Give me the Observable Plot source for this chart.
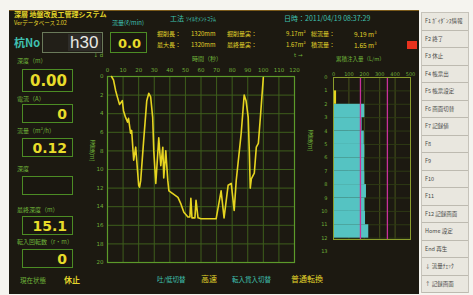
<!DOCTYPE html>
<html><head><meta charset="utf-8">
<script src="https://cdn.jsdelivr.net/npm/d3@7"></script>
<script src="https://cdn.jsdelivr.net/npm/@observablehq/plot@0.6"></script>
<style>
body{margin:0;background:#f5f4ef;font-family:"Noto Sans CJK JP",sans-serif;}
#wrap{position:relative;width:473px;height:295px;overflow:hidden;background:#f5f4ef;}
#screen{position:absolute;left:9px;top:10px;width:410px;height:283px;background:#1c1911;border-top:1px solid #7a5a1a;}
.t{position:absolute;white-space:nowrap;line-height:1;}
.y{color:#e2d42a;}
.c{color:#3fc0b0;}
.g{color:#6fb43a;}
.box{position:absolute;border:1.5px solid #4c8c24;background:#1a1710;box-sizing:border-box;}
.val{position:absolute;right:5px;top:50%;transform:translateY(-50%);color:#e8dc2a;font-weight:bold;font-family:"DejaVu Sans",sans-serif;line-height:1;}
#panel{position:absolute;left:421px;top:12px;width:48px;height:281px;background:#e9e7df;border:1px solid #c6c3ba;box-sizing:border-box;}
.btn{height:17.5px;border-bottom:1px solid #bdbab0;box-sizing:border-box;font-size:5.5px;color:#4a4a48;padding-left:3px;line-height:17px;white-space:nowrap;}
#main,#side{position:absolute;}
</style></head>
<body><div id="wrap">
<div id="screen"></div>
<div id="main" style="left:90px;top:50px"></div>
<div id="side" style="left:305px;top:55px"></div>
<div id="panel"></div>
</div>
<script>
// ---- main trace: time (s) vs depth (m)
const time = [2.6, 3.9, 5.2, 6.5, 7.7, 9.5, 10.3, 11.6, 12.9, 13.5, 14.8, 15.5, 16.8, 18.1, 19.4, 20.0, 20.6, 21.3, 23.2, 25.2, 26.5, 27.7, 29.0, 29.7, 31.0, 32.9, 34.2, 35.5, 36.1, 37.4, 38.7, 39.4, 41.9, 45.2, 47.1, 49.0, 51.6, 52.9, 53.5, 54.2, 56.1, 56.8, 58.1, 60.0, 69.7, 72.9, 74.8, 77.4, 79.4, 81.3, 82.6, 85.8, 87.7, 88.9, 90.3, 91.0, 91.6, 92.3, 94.2, 95.5, 96.8, 98.1, 100.0];
const depth = [0, 0.4, 1.5, 2.3, 3.0, 2.6, 3.7, 4.4, 4.9, 4.5, 6.1, 5.8, 9.0, 7.6, 10.4, 11.7, 11.9, 11.2, 6.9, 2.6, 1.8, 2.2, 4.4, 8.0, 11.5, 6.6, 9.6, 7.6, 10.9, 8.0, 11.2, 12.3, 12.6, 13.0, 13.7, 14.6, 15.1, 15.1, 13.1, 15.2, 15.2, 13.3, 15.2, 15.3, 15.3, 12.3, 15.2, 11.7, 11.5, 14.4, 11.2, 6.1, 2.0, 2.6, 4.4, 8.0, 12.0, 11.0, 10.4, 7.6, 7.2, 4.4, 0.1];
const timeTicks = [0,10,20,30,40,50,60,70,80,90,100,110,120];
const depthTicks = [0,2,4,6,8,10,12,14,16,18,20];

// ---- side chart: injection per layer
const layerTop = [2,3,4,5,6,7,8,9,10,11];
const layerAmount = [203,186,200,203,201,203,214,204,208,229];
const currentLayerTop = [1];
const currentAmount = [20];
const limitLines = [175,350];
const amountTicks = [0,100,200,300,400,500];
const layerTicks = [0,1,2,3,4,5,6,7,8,9,10,11,12,13];

// ---- texts
const buttons = ["F1 ｶﾞｲﾀﾞﾝｽ情報","F2 終了","F3 休止","F4 帳票出","F5 帳票設定","F6 画面切替","F7 記録値","F8","F9","F10","F11","F12 記録画面","Home 設定","End 再生","↓ 流量ﾁｪｯｸ","↑ 記録画面"];

const trace = time.map((t,i)=>({t, d: depth[i]}));
const main = Plot.plot({
  width:215, height:220, marginLeft:17, marginTop:26, marginRight:11, marginBottom:8,
  style:{background:"transparent", color:"#6fae38", fontSize:"5.5px", fontFamily:"DejaVu Sans"},
  x:{domain:[0,120], axis:null},
  y:{domain:[0,20], reverse:true, axis:null},
  marks:[
    Plot.gridX(timeTicks, {stroke:"#3e5e1c", strokeOpacity:1}),
    Plot.gridY(depthTicks, {stroke:"#3e5e1c", strokeOpacity:1}),
    Plot.frame({stroke:"#5c9a2a", strokeWidth:1.2}),
    Plot.axisX(timeTicks, {anchor:"top", tickSize:0, tickPadding:5, fill:"#6fae38"}),
    Plot.axisY(depthTicks, {anchor:"left", tickSize:0, tickPadding:4, fill:"#6fae38"}),
    Plot.line(trace, {x:"t", y:"d", stroke:"#e6d420", strokeWidth:1.6})
  ]
});
document.getElementById("main").append(main);

const layers = layerTop.map((d,i)=>({d, v: layerAmount[i]}));
const cur = currentLayerTop.map((d,i)=>({d, v: currentAmount[i]}));
const side = Plot.plot({
  width:112, height:200, marginLeft:28, marginTop:22, marginRight:7, marginBottom:16,
  style:{background:"transparent", color:"#6fae38", fontSize:"5px", fontFamily:"DejaVu Sans"},
  x:{domain:[0,500], axis:null},
  y:{domain:[0,12.1], reverse:true, axis:null},
  marks:[
    Plot.gridX([100,200,300,400], {stroke:"#45521c", strokeOpacity:1}),
    Plot.gridY(layerTicks.filter(d=>d>0 && d<13), {stroke:"#2e3a14", strokeOpacity:1}),
    Plot.rect(layers, {x1:()=>0, x2:"v", y1:"d", y2:d=>d.d+1, fill:"#55c3c2"}),
    Plot.rect(cur, {x1:()=>0, x2:"v", y1:"d", y2:d=>d.d+1, fill:"#e6d420"}),
    Plot.ruleX(limitLines, {stroke:"#c8309a", strokeWidth:1.3}),
    Plot.frame({stroke:"#8a9c2c", strokeWidth:1}),
    Plot.text(amountTicks, {x:d=>d, frameAnchor:"top", dy:-5, text:d=>String(d), fill:"#6fae38"}),
    Plot.text(layerTicks, {y:d=>d, frameAnchor:"left", dx:-6, textAnchor:"end", text:d=>String(d), fill:"#6fae38"})
  ]
});
document.getElementById("side").append(side);

const wrap = document.getElementById("wrap");
function txt(s, x, y, cls, size, extra){
  const e = document.createElement("div");
  e.className = "t " + cls; e.textContent = s;
  e.style.left = x+"px"; e.style.top = y+"px"; e.style.fontSize = size+"px";
  if (extra) Object.assign(e.style, extra);
  wrap.append(e); return e;
}
function box(x, y, w, h, v, size, extra){
  const b = document.createElement("div");
  b.className = "box"; Object.assign(b.style, {left:x+"px", top:y+"px", width:w+"px", height:h+"px"});
  if (extra) Object.assign(b.style, extra);
  if (v !== null){ const s = document.createElement("div"); s.className="val"; s.textContent=v; s.style.fontSize=size+"px"; b.append(s); }
  wrap.append(b); return b;
}
// header
txt("深層 地盤改良工管理システム", 14, 11, "y", 7, {fontWeight:"bold"});
txt("Verデータベース 2.02", 14, 21, "y", 5.5);
txt("流量(ℓ/min)", 112, 20, "c", 6);
txt("工法", 170, 15, "c", 7);
txt("ｿｲﾙｾﾒﾝﾄｺﾗﾑ", 186, 16, "c", 6);
txt("日時：2011/04/19 08:37:29", 284, 15, "c", 7);
txt("杭No", 14, 37, "c", 11, {fontWeight:"bold"});
const h = box(42, 32, 61, 21, null, 0, {borderColor:"#6a7a5a", background:"#221f18"});
const hv = document.createElement("div");
Object.assign(hv.style, {position:"absolute", left:"25px", top:"1px", right:"1px", bottom:"1px", background:"#2e2c28", color:"#e8e8e4", fontSize:"17px", fontFamily:"Liberation Sans", lineHeight:"18px", paddingLeft:"2px"});
hv.textContent = "h30"; h.append(hv);
box(110, 32, 37, 21, "0.0", 13);
// summary rows
txt("掘削長：", 157, 31, "y", 6); txt("1320mm", 191, 31, "y", 6);
txt("掘削量実：", 227, 31, "y", 6); txt("9.17m³", 286, 31, "y", 6);
txt("総流量：", 311, 31, "y", 6); txt("9.19 m³", 354, 31, "y", 6.5);
txt("最大長：", 157, 42, "y", 6); txt("1320mm", 191, 42, "y", 6);
txt("最終量実：", 227, 42, "y", 6); txt("1.67m³", 286, 42, "y", 6);
txt("積流量：", 311, 42, "y", 6); txt("1.65 m³", 354, 42, "y", 6.5);
const red = document.createElement("div");
Object.assign(red.style, {position:"absolute", left:"407px", top:"41px", width:"10px", height:"8px", background:"#e8321e"});
wrap.append(red);
// left column
txt("深度（m）", 17, 58, "g", 6);      box(22, 69, 51, 23, "0.00", 15);
txt("電流（A）", 17, 96, "g", 6);      box(22, 104, 51, 19, "0", 14);
txt("流量（m³/h）", 17, 128, "g", 6);  box(22, 138, 51, 19, "0.12", 14);
txt("深度", 17, 166, "g", 6);          box(22, 176, 51, 19, null);
txt("最終深度（m）", 17, 207, "g", 6); box(22, 216, 51, 19, "15.1", 14);
txt("転入回転数（r・m）", 17, 239, "g", 6); box(22, 249, 51, 19, "0", 14);
txt("現在状態", 20, 277, "g", 6.5); txt("休止", 64, 276, "y", 8, {fontWeight:"bold"});
// axis titles
txt("時間（秒）", 192, 56, "g", 6);
txt("累積注入量（L/m）", 336, 57, "g", 5.5);
txt("深度(m)", 89, 140, "g", 6, {writingMode:"vertical-rl"});
txt("深度(m)", 307, 130, "g", 6, {writingMode:"vertical-rl"});
// bottom
txt("吐/低切替", 157, 276, "c", 6.5); txt("高速", 201, 275, "y", 8);
txt("転入貫入切替", 232, 276, "c", 6.5); txt("普通転換", 291, 275, "y", 8);
// buttons
const panel = document.getElementById("panel");
buttons.forEach(b=>{ const e=document.createElement("div"); e.className="btn"; e.textContent=b; panel.append(e); });
</script>
</body></html>
